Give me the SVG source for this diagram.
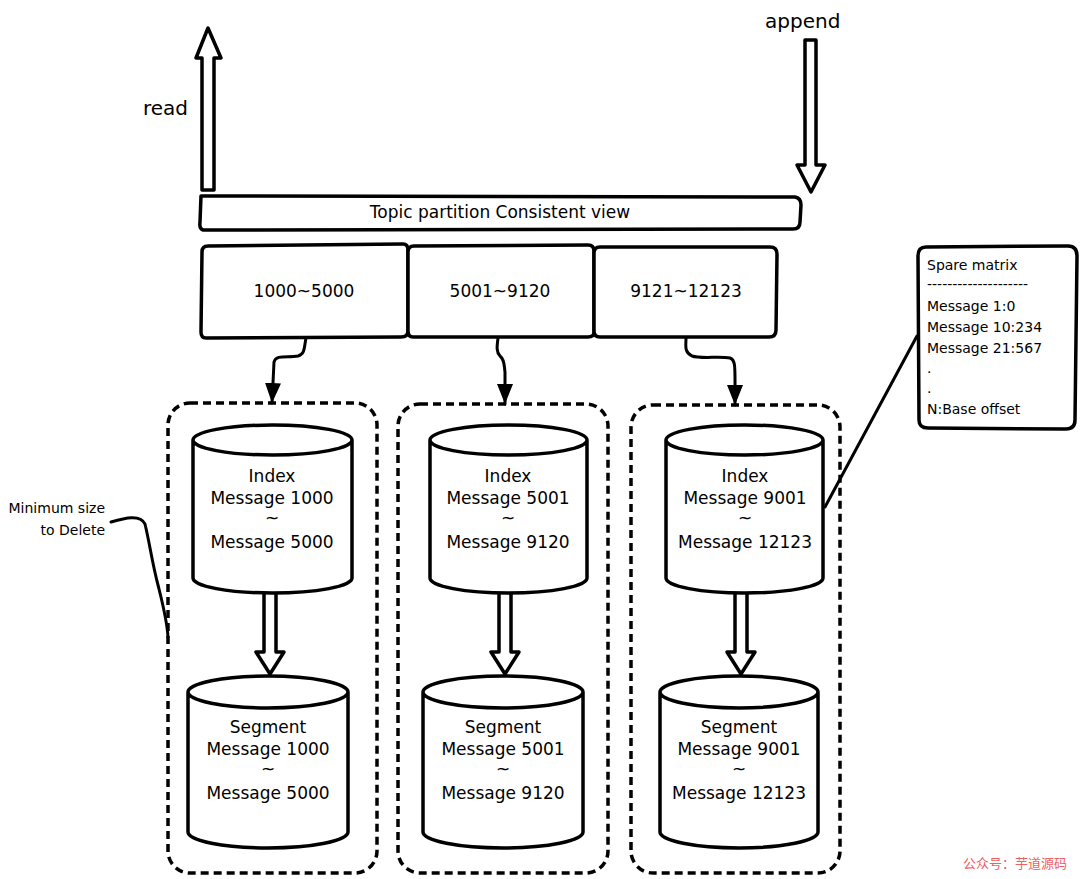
<svg xmlns="http://www.w3.org/2000/svg" width="1080" height="879" viewBox="0 0 1080 879">
<style>
.s{fill:#fff;stroke:#000;stroke-width:3.5;stroke-linejoin:round;stroke-linecap:round}
.l{fill:none;stroke:#000;stroke-width:3;stroke-linecap:round;stroke-linejoin:round}
.d{fill:none;stroke:#000;stroke-width:3.5;stroke-dasharray:8 5}
.t{font-family:"DejaVu Sans","Liberation Sans",sans-serif;fill:#000}
.c{text-anchor:middle;font-size:17px}
.n{font-size:14px}
</style>
<defs>
<marker id="ah" markerUnits="userSpaceOnUse" markerWidth="20" markerHeight="16" refX="20" refY="8" orient="auto" viewBox="0 0 20 16">
<path d="M0,0 L20,8 L0,16 Z" fill="#000"/>
</marker>
</defs>
<rect width="1080" height="879" fill="#fff"/>

<g id="read">
<path class="s" d="M202,190 L202,58 L196,58 L208,28 L221,58 L214,58 L214,190 Z"/>
<text class="t" x="143" y="115" font-size="20">read</text>
</g>
<g id="append">
<path class="s" d="M805,40 L816,40 L816,165 L825,165 L811,192 L797,165 L805,165 Z"/>
<text class="t" x="765" y="28" font-size="20">append</text>
</g>

<g id="topic">
<path class="s" d="M201,196 L795,197 Q801,198 801,205 L800,222 Q800,229 793,229 L203,230 Q199,229 200,222 Z"/>
<text class="t c" x="500" y="218" font-size="18">Topic partition Consistent view</text>
</g>

<g id="p1">
<path class="s" d="M208,246 L403,244 Q408,244 408,250 L408,331 Q408,337 401,337 L206,338 Q201,338 201,332 L202,252 Q202,246 208,246 Z"/>
<text class="t c" x="304" y="297" font-size="16">1000~5000</text>
</g>
<g id="p2">
<path class="s" d="M414,246 L588,245 Q594,245 594,251 L594,332 Q594,337 588,337 L413,337 Q408,337 408,331 L408,252 Q408,246 414,246 Z"/>
<text class="t c" x="500" y="297" font-size="16">5001~9120</text>
</g>
<g id="p3">
<path class="s" d="M600,247 L770,247 Q777,247 777,254 L776,330 Q776,337 769,337 L600,337 Q594,337 594,331 L594,253 Q594,247 600,247 Z"/>
<text class="t c" x="686" y="297" font-size="16">9121~12123</text>
</g>

<g id="connectors">
<path class="l" d="M306,338 C304,348 305,354 298,356 C288,358 276,354 274,362 L272,403" marker-end="url(#ah)"/>
<path class="l" d="M498,338 C497,346 496,352 500,356 C505,360 504,366 505,372 L505,404" marker-end="url(#ah)"/>
<path class="l" d="M686,338 C686,346 684,352 692,356 C700,359 720,356 730,358 C736,360 735,366 735,405" marker-end="url(#ah)"/>
<path class="l" d="M825,507 L917,336"/>
<path class="l" d="M111,522 C125,518 140,514 145,524 C150,545 152,562 158,585 C163,605 167,620 168,637"/>
<path class="s" d="M264,592 L276,592 L276,652 L284,652 L270,674 L256,652 L264,652 Z"/>
<path class="s" d="M499,592 L511,592 L511,652 L519,652 L505,674 L491,652 L499,652 Z"/>
<path class="s" d="M735,592 L747,592 L747,652 L755,652 L741,674 L727,652 L735,652 Z"/>
</g>

<g id="group1">
<rect class="d" x="168" y="403" width="209" height="470" rx="22"/>
</g>
<g id="group2">
<rect class="d" x="398" y="404" width="210" height="469" rx="22"/>
</g>
<g id="group3">
<rect class="d" x="631" y="405" width="209" height="468" rx="22"/>
</g>

<g id="index1">
<path class="s" d="M193,440 A79.5,15 0 0 1 352,440 L352,578 A79.5,15 0 0 1 193,578 Z M193,440 A79.5,15 0 0 0 352,440"/>
<text class="t c" x="272" y="482">Index</text>
<text class="t c" x="272" y="504">Message 1000</text>
<text class="t c" x="272" y="524">~</text>
<text class="t c" x="272" y="548">Message 5000</text>
</g>
<g id="index2">
<path class="s" d="M430,440 A78.5,15 0 0 1 587,440 L587,578 A78.5,15 0 0 1 430,578 Z M430,440 A78.5,15 0 0 0 587,440"/>
<text class="t c" x="508" y="482">Index</text>
<text class="t c" x="508" y="504">Message 5001</text>
<text class="t c" x="508" y="524">~</text>
<text class="t c" x="508" y="548">Message 9120</text>
</g>
<g id="index3">
<path class="s" d="M666,440 A78.5,15 0 0 1 823,440 L823,578 A78.5,15 0 0 1 666,578 Z M666,440 A78.5,15 0 0 0 823,440"/>
<text class="t c" x="745" y="482">Index</text>
<text class="t c" x="745" y="504">Message 9001</text>
<text class="t c" x="745" y="524">~</text>
<text class="t c" x="745" y="548">Message 12123</text>
</g>

<g id="segment1">
<path class="s" d="M188,692 A80,16 0 0 1 348,692 L348,832 A80,16 0 0 1 188,832 Z M188,692 A80,16 0 0 0 348,692"/>
<text class="t c" x="268" y="733">Segment</text>
<text class="t c" x="268" y="755">Message 1000</text>
<text class="t c" x="268" y="775">~</text>
<text class="t c" x="268" y="799">Message 5000</text>
</g>
<g id="segment2">
<path class="s" d="M423,692 A80,16 0 0 1 583,692 L583,832 A80,16 0 0 1 423,832 Z M423,692 A80,16 0 0 0 583,692"/>
<text class="t c" x="503" y="733">Segment</text>
<text class="t c" x="503" y="755">Message 5001</text>
<text class="t c" x="503" y="775">~</text>
<text class="t c" x="503" y="799">Message 9120</text>
</g>
<g id="segment3">
<path class="s" d="M660,692 A79,16 0 0 1 818,692 L818,832 A79,16 0 0 1 660,832 Z M660,692 A79,16 0 0 0 818,692"/>
<text class="t c" x="739" y="733">Segment</text>
<text class="t c" x="739" y="755">Message 9001</text>
<text class="t c" x="739" y="775">~</text>
<text class="t c" x="739" y="799">Message 12123</text>
</g>

<g id="note">
<path class="s" d="M926,247 L1068,246 Q1077,246 1077,256 L1075,420 Q1075,429 1066,429 L928,428 Q919,428 919,420 L918,256 Q918,247 926,247 Z"/>
<text class="t n" x="927" y="270" font-size="15">Spare matrix</text>
<text class="t n" x="927" y="289">--------------------</text>
<text class="t n" x="927" y="311">Message 1:0</text>
<text class="t n" x="927" y="332">Message 10:234</text>
<text class="t n" x="927" y="353">Message 21:567</text>
<text class="t n" x="927" y="373">.</text>
<text class="t n" x="927" y="393">.</text>
<text class="t n" x="927" y="414">N:Base offset</text>
</g>

<g id="min-size">
<text class="t n" x="105" y="513" text-anchor="end">Minimum size</text>
<text class="t n" x="105" y="535" text-anchor="end">to Delete</text>
</g>

<text x="963" y="868" font-size="13" fill="#f06060" font-family="'Noto Sans CJK SC',sans-serif">公众号：芋道源码</text>
</svg>
